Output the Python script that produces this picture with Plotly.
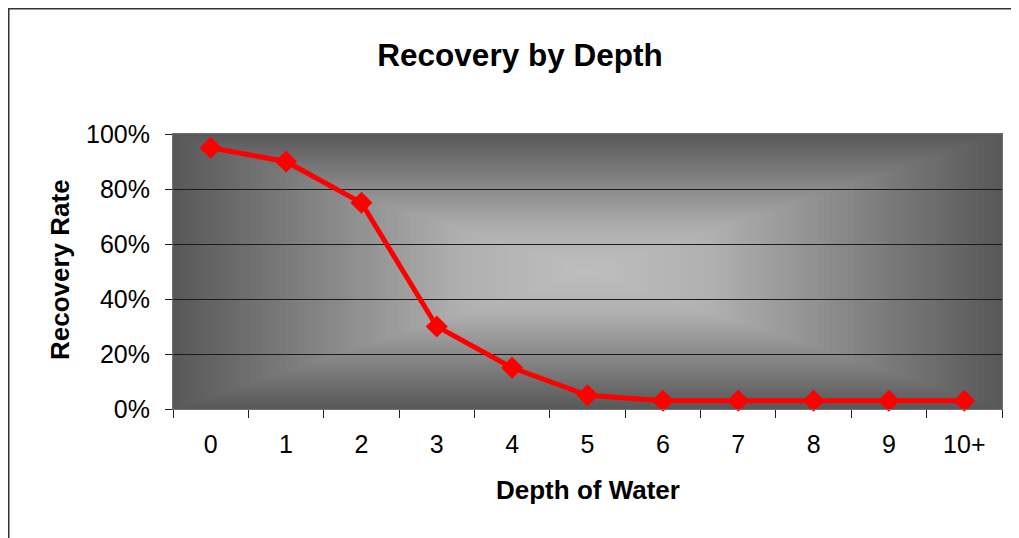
import plotly.graph_objects as go

# Data
depths = ["0", "1", "2", "3", "4", "5", "6", "7", "8", "9", "10+"]
recovery = [0.95, 0.90, 0.75, 0.30, 0.15, 0.05, 0.03, 0.03, 0.03, 0.03, 0.03]
y_ticks = [0, 0.2, 0.4, 0.6, 0.8, 1.0]
y_tick_text = ["0%", "20%", "40%", "60%", "80%", "100%"]

FONT = "Liberation Sans, Arial, sans-serif"

W, H = 1011, 530          # page body has an 8px margin
L, R, T, B = 165, 17, 126, 129
PW, PH = W - L - R, H - T - B   # 829 x 275

fig = go.Figure()
fig.add_trace(go.Scatter(
    x=depths, y=recovery, mode="lines+markers",
    line=dict(color="#ff0000", width=5),
    marker=dict(symbol="diamond", size=17, color="#ff0000"),
    showlegend=False, cliponaxis=False,
))

# rectangular "from center" gradient for the plot area background
shapes = []
N = 70
def shade(d):
    if d <= 0.3:
        v = 190 - (190 - 176) * d / 0.3
    else:
        v = 176 - (176 - 88) * (d - 0.3) / 0.7
    v = int(round(v))
    return f"rgb({v},{v},{v})"

for k in range(N):
    d_out = 1 - k / N
    d_mid = 1 - (k + 0.5) / N
    h = 0.5 * d_out
    shapes.append(dict(type="rect", xref="paper", yref="paper",
                       x0=0.5 - h, x1=0.5 + h, y0=0.5 - h, y1=0.5 + h,
                       fillcolor=shade(d_mid), line=dict(width=0), layer="below"))

# chart outer border (figure px -> paper)
def px_x(x):
    return (x - L) / PW
def px_y(y):
    return (H - B - y) / PH

shapes.append(dict(type="rect", xref="paper", yref="paper",
                   x0=px_x(0), x1=px_x(W + 20),
                   y0=px_y(H + 20), y1=px_y(0),
                   line=dict(color="#333333", width=3), fillcolor="rgba(0,0,0,0)",
                   layer="below"))

fig.update_layout(
    width=W, height=H,
    margin=dict(l=L, r=R, t=T, b=B, autoexpand=False),
    paper_bgcolor="white", plot_bgcolor="#5a5a5a",
    font=dict(family=FONT, size=25, color="black"),
    title=dict(text="<b>Recovery by Depth</b>", font=dict(family=FONT, size=31.5, color="black"),
               xref="container", yref="container", x=(520 - 8) / W, y=1 - (55 - 8) / H,
               xanchor="center", yanchor="middle"),
    shapes=shapes,
    annotations=[
        dict(text="<b>Recovery Rate</b>", xref="paper", yref="paper",
             x=px_x(60 - 8), y=px_y(270 - 8), textangle=-90,
             showarrow=False, font=dict(family=FONT, size=26, color="black"),
             xanchor="center", yanchor="middle"),
        dict(text="<b>Depth of Water</b>", xref="paper", yref="paper",
             x=px_x(588 - 8), y=px_y(490 - 8),
             showarrow=False, font=dict(family=FONT, size=26, color="black"),
             xanchor="center", yanchor="middle"),
    ],
)

fig.update_xaxes(
    type="category", categoryorder="array", categoryarray=depths,
    range=[-0.5, len(depths) - 0.5],
    showgrid=False, zeroline=False,
    showline=True, linecolor="#707070", linewidth=1, mirror=True,
    ticks="outside", ticklen=8, tickcolor="#202020", tickson="boundaries",
    ticklabelstandoff=13,
    tickfont=dict(family=FONT, size=25, color="black"),
)
fig.update_yaxes(
    range=[0, 1], tickvals=y_ticks, ticktext=y_tick_text,
    showgrid=True, gridcolor="#1a1a1a", gridwidth=1, zeroline=False,
    showline=True, linecolor="#707070", linewidth=1, mirror=True,
    ticks="outside", ticklen=7, tickcolor="#202020",
    ticklabelstandoff=10,
    tickfont=dict(family=FONT, size=25, color="black"),
)

fig.write_html("out.html")
